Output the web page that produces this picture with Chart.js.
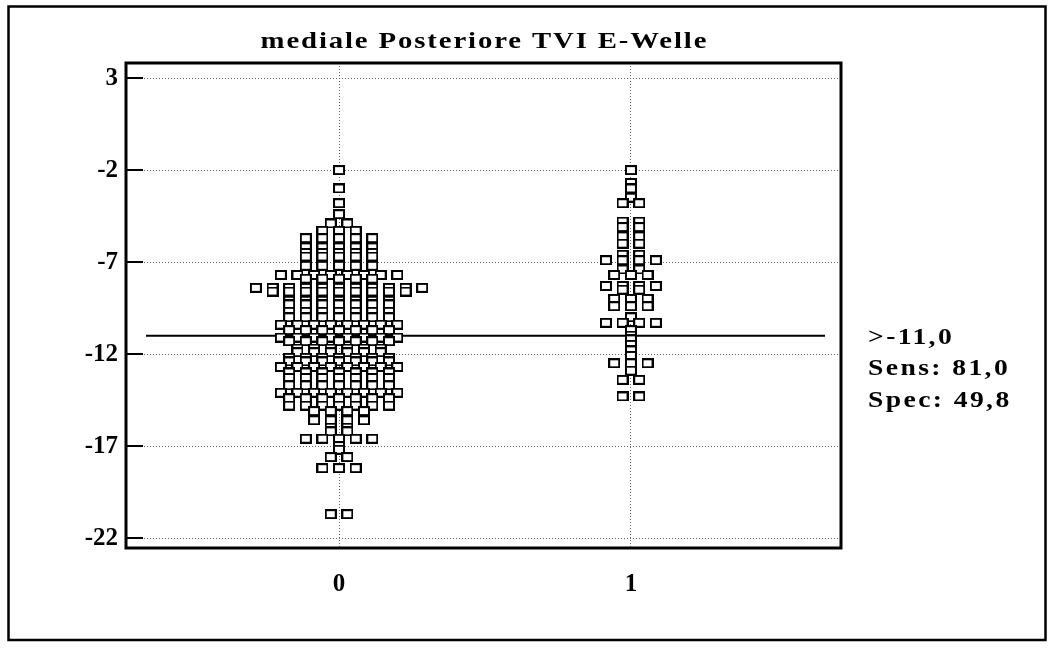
<!DOCTYPE html>
<html>
<head>
<meta charset="utf-8">
<title>mediale Posteriore TVI E-Welle</title>
<script src="https://cdn.jsdelivr.net/npm/chart.js@4.4.0/dist/chart.umd.min.js"></script>
<style>
  html, body { margin: 0; padding: 0; background: #fff; }
</style>
</head>
<body>
<canvas id="chart" width="1056" height="648"></canvas>
<script>
const chartTitle = 'mediale Posteriore TVI E-Welle';
const groupLabels = ['0', '1'];
const yTicks = [3, -2, -7, -12, -17, -22];
const cutoff = -11.0;
const cutoffNotes = ['>-11,0', 'Sens: 81,0', 'Spec: 49,8'];

// group 0: each value and the number of cases that share it
const group0Values = [-2.0, -3.0, -3.8, -4.4, -4.9, -5.3, -5.7, -6.2, -6.5, -6.7,
  -7.2, -7.7, -7.9, -8.4, -8.6, -9.1, -9.3, -9.7, -10.0, -10.4,
  -10.7, -11.1, -11.3, -11.7, -11.9, -12.2, -12.4, -12.7, -13.0, -13.3,
  -13.7, -14.1, -14.4, -14.8, -15.1, -15.6, -16.0, -16.2, -16.6, -17.0,
  -17.2, -17.6, -18.2, -20.7];
const group0Counts = [1, 1, 1, 1, 2, 3, 5, 5, 5, 5,
  5, 8, 5, 11, 9, 7, 7, 7, 7, 8,
  7, 8, 7, 6, 6, 7, 7, 8, 7, 7,
  7, 8, 7, 7, 4, 4, 2, 2, 5, 1,
  1, 2, 3, 2];

// group 1
const group1Values = [-2.0, -2.7, -3.0, -3.5, -3.8, -4.8, -5.1, -5.6, -6.0, -6.6,
  -6.9, -7.4, -7.7, -8.3, -8.5, -9.0, -9.4, -10.0, -10.3, -10.7,
  -11.0, -11.2, -11.5, -11.8, -12.1, -12.5, -12.9, -13.4, -14.3];
const group1Counts = [1, 1, 1, 1, 2, 2, 2, 2, 2, 2,
  4, 2, 3, 4, 2, 3, 3, 1, 4, 1,
  1, 1, 1, 1, 1, 3, 1, 2, 2];

// cases with the same value are laid side by side around the group position
const spread = 0.057;
function dotRows(group, values, counts) {
  const pts = [];
  values.forEach((v, i) => {
    const n = counts[i];
    for (let k = 0; k < n; k++) {
      pts.push({ x: group + (k - (n - 1) / 2) * spread, y: v });
    }
  });
  return pts;
}

// open square marker, white inside so stacked squares cover each other
const box = document.createElement('canvas');
box.width = 12;
box.height = 10;
const bctx = box.getContext('2d');
bctx.fillStyle = '#fff';
bctx.fillRect(0, 0, 12, 10);
bctx.strokeStyle = '#000';
bctx.lineWidth = 2;
bctx.strokeRect(1, 1, 10, 8);

const serif = "'Liberation Serif', 'Times New Roman', serif";

// wide, slightly spaced bold serif text
function wideText(ctx, text, x, y, size, stretch, spacing, align) {
  ctx.save();
  ctx.font = 'bold ' + size + 'px ' + serif;
  ctx.letterSpacing = spacing + 'px';
  ctx.textBaseline = 'alphabetic';
  ctx.textAlign = 'left';
  const w = (ctx.measureText(text).width - spacing) * stretch;
  const left = align === 'center' ? x - w / 2 : x;
  ctx.translate(left, y);
  ctx.scale(stretch, 1);
  ctx.fillText(text, 0, 0);
  ctx.restore();
}

const decor = {
  id: 'decor',
  beforeDraw(chart) {
    const ctx = chart.ctx;
    ctx.save();
    ctx.fillStyle = '#fff';
    ctx.fillRect(0, 0, chart.width, chart.height);
    ctx.restore();
  },
  beforeDatasetsDraw(chart) {
    const { ctx, chartArea: a, scales: { y } } = chart;
    const py = y.getPixelForValue(cutoff);
    ctx.save();
    ctx.strokeStyle = '#000';
    ctx.lineWidth = 2;
    ctx.beginPath();
    ctx.moveTo(a.left + 20, py);
    ctx.lineTo(a.right - 16, py);
    ctx.stroke();
    ctx.restore();
  },
  afterDraw(chart) {
    const { ctx, chartArea: a, scales: { y } } = chart;
    ctx.save();
    ctx.strokeStyle = '#000';
    ctx.fillStyle = '#000';

    // plot frame
    ctx.lineWidth = 3;
    ctx.strokeRect(a.left, a.top, a.right - a.left, a.bottom - a.top);

    // tick marks pointing into the plot
    ctx.lineWidth = 2;
    ctx.beginPath();
    yTicks.forEach(v => {
      const py = y.getPixelForValue(v);
      ctx.moveTo(a.left, py);
      ctx.lineTo(a.left + 17, py);
    });
    ctx.stroke();

    // outer border
    ctx.lineWidth = 2.5;
    ctx.strokeRect(8.5, 6.5, 1037, 633.5);

    // title
    wideText(ctx, chartTitle, (a.left + a.right) / 2, 48, 23, 1.25, 1.5, 'center');

    // cutoff notes
    const base = y.getPixelForValue(cutoff) + 8;
    cutoffNotes.forEach((t, i) => wideText(ctx, t, 868, base + i * 31.5, 23, 1.2, 2, 'left'));
    ctx.restore();
  }
};

new Chart(document.getElementById('chart'), {
  type: 'scatter',
  data: {
    datasets: [
      {
        label: groupLabels[0],
        data: dotRows(0, group0Values, group0Counts),
        pointStyle: box,
        pointRadius: 6,
        pointHoverRadius: 6
      },
      {
        label: groupLabels[1],
        data: dotRows(1, group1Values, group1Counts),
        pointStyle: box,
        pointRadius: 6,
        pointHoverRadius: 6
      }
    ]
  },
  options: {
    responsive: false,
    animation: false,
    devicePixelRatio: 1,
    layout: { padding: { top: 63, right: 215, left: 0, bottom: 0 } },
    plugins: {
      legend: { display: false },
      tooltip: { enabled: false }
    },
    scales: {
      x: {
        type: 'linear',
        min: -0.73,
        max: 1.72,
        afterBuildTicks: s => { s.ticks = [0, 1].map(v => ({ value: v })); },
        afterFit: s => { s.height = 100; },
        ticks: {
          callback: v => groupLabels[v],
          color: '#000',
          font: { family: serif, size: 25, weight: 'bold' },
          padding: 22,
          maxRotation: 0,
          autoSkip: false
        },
        grid: { color: '#666', lineWidth: 1, drawTicks: false },
        border: { display: false, dash: [1, 2] }
      },
      y: {
        type: 'linear',
        min: -22.54,
        max: 3.82,
        afterBuildTicks: s => { s.ticks = yTicks.map(v => ({ value: v })); },
        afterFit: s => { s.width = 126; },
        ticks: {
          color: '#000',
          font: { family: serif, size: 25, weight: 'bold' },
          padding: 8
        },
        grid: { color: '#666', lineWidth: 1, drawTicks: false },
        border: { display: false, dash: [1, 2] }
      }
    }
  },
  plugins: [decor]
});
</script>
</body>
</html>
